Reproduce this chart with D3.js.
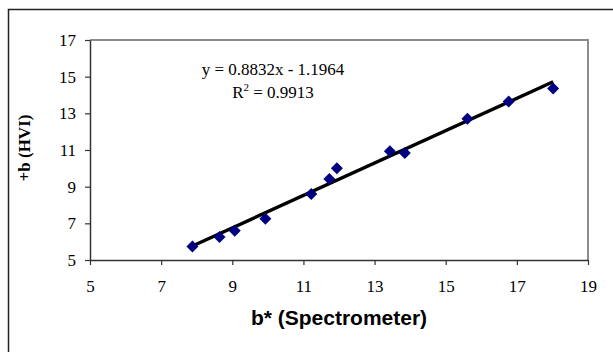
<!DOCTYPE html>
<html>
<head>
<meta charset="utf-8">
<script src="https://cdn.jsdelivr.net/npm/d3@7"></script>
<style>
	body { margin: 0; background: #fff; }
</style>
</head>
<body>
<div class="scatter-plot"></div>
<script>
var bStar = [7.88, 8.64, 9.07, 9.93, 11.22, 11.73, 11.94, 13.43, 13.85, 15.61, 16.77, 18.02];
var bHvi  = [5.74, 6.25, 6.60, 7.25, 8.60, 9.42, 10.00, 10.93, 10.84, 12.71, 13.64, 14.36];
var xTicks = [5, 7, 9, 11, 13, 15, 17, 19];
var yTicks = [5, 7, 9, 11, 13, 15, 17];
var slope = 0.8832, intercept = -1.1964;
var eqText = "y = 0.8832x - 1.1964";
var r2Text = "0.9913";

var SERIF = "'Liberation Serif', 'Times New Roman', Times, serif";
var SANS = "'Liberation Sans', Arial, Helvetica, sans-serif";

var W = 613, H = 352;
var margin = { top : 40, right : 25, bottom : 92, left : 90 },
	width = W - margin.left - margin.right,
	height = H - margin.top - margin.bottom;

var svg = d3.select(".scatter-plot").append("svg")
	.attr("width", W)
	.attr("height", H);

// outer chart border (runs off the right / bottom edge)
svg.append("rect")
	.attr("x", 8.5).attr("y", 9.5)
	.attr("width", 620).attr("height", 360)
	.attr("fill", "none")
	.attr("stroke", "#222")
	.attr("stroke-width", 1.5);

var g = svg.append("g")
	.attr("transform", "translate(" + margin.left + "," + margin.top + ")");

var xScale = d3.scaleLinear().domain([5, 19]).range([0, width]);
var yScale = d3.scaleLinear().domain([5, 17]).range([height, 0]);

// gray top / right frame of plot area
g.append("path")
	.attr("d", "M0,0H" + width + "V" + height)
	.attr("fill", "none")
	.attr("stroke", "#8c8c8c")
	.attr("stroke-width", 2);

var xAxis = g.append("g")
	.attr("transform", "translate(0," + height + ")")
	.call(d3.axisBottom(xScale).tickValues(xTicks).tickSize(5).tickPadding(15).tickSizeOuter(0));

var yAxis = g.append("g")
	.call(d3.axisLeft(yScale).tickValues(yTicks).tickSize(5).tickPadding(9).tickSizeOuter(0));

[xAxis, yAxis].forEach(function ( a ) {
	a.attr("font-family", SERIF).attr("font-size", 17);
	a.selectAll(".tick text").attr("fill", "#000");
	a.select(".domain").attr("stroke", "#333").attr("stroke-width", 1.5);
	a.selectAll(".tick line").attr("stroke", "#333").attr("stroke-width", 1.2);
});

// trend line over data range
var xMin = d3.min(bStar), xMax = d3.max(bStar);
g.append("line")
	.attr("x1", xScale(xMin)).attr("y1", yScale(slope * xMin + intercept))
	.attr("x2", xScale(xMax)).attr("y2", yScale(slope * xMax + intercept))
	.attr("stroke", "#000")
	.attr("stroke-width", 3.4);

var diamond = d3.symbol().type(d3.symbolSquare).size(72);

g.selectAll(".case")
	.data(d3.range(bStar.length))
	.enter()
	.append("path")
	.attr("class", "case")
	.attr("d", diamond)
	.attr("transform", function ( i ) {
		return "translate(" + xScale(bStar[i]) + "," + yScale(bHvi[i]) + ")rotate(45)";
	})
	.attr("fill", "#000080");

// equation labels
svg.append("text")
	.attr("x", 273).attr("y", 75)
	.attr("text-anchor", "middle")
	.attr("font-family", SERIF)
	.attr("font-size", 17)
	.text(eqText);

var r2 = svg.append("text")
	.attr("x", 273).attr("y", 98)
	.attr("text-anchor", "middle")
	.attr("font-family", SERIF)
	.attr("font-size", 17);
r2.append("tspan").text("R");
r2.append("tspan").attr("dy", -7).attr("font-size", 11).text("2");
r2.append("tspan").attr("dy", 7).text(" = " + r2Text);

// axis titles
svg.append("text")
	.attr("text-anchor", "middle")
	.attr("transform", "translate(" + 30 + "," + 148 + ")rotate(-90)")
	.attr("font-family", SERIF)
	.attr("font-weight", "bold")
	.attr("font-size", 17)
	.text("+b (HVI)");

svg.append("text")
	.attr("text-anchor", "middle")
	.attr("x", 339).attr("y", 325)
	.attr("font-family", SANS)
	.attr("font-weight", "bold")
	.attr("font-size", 21)
	.text("b* (Spectrometer)");
</script>
</body>
</html>
